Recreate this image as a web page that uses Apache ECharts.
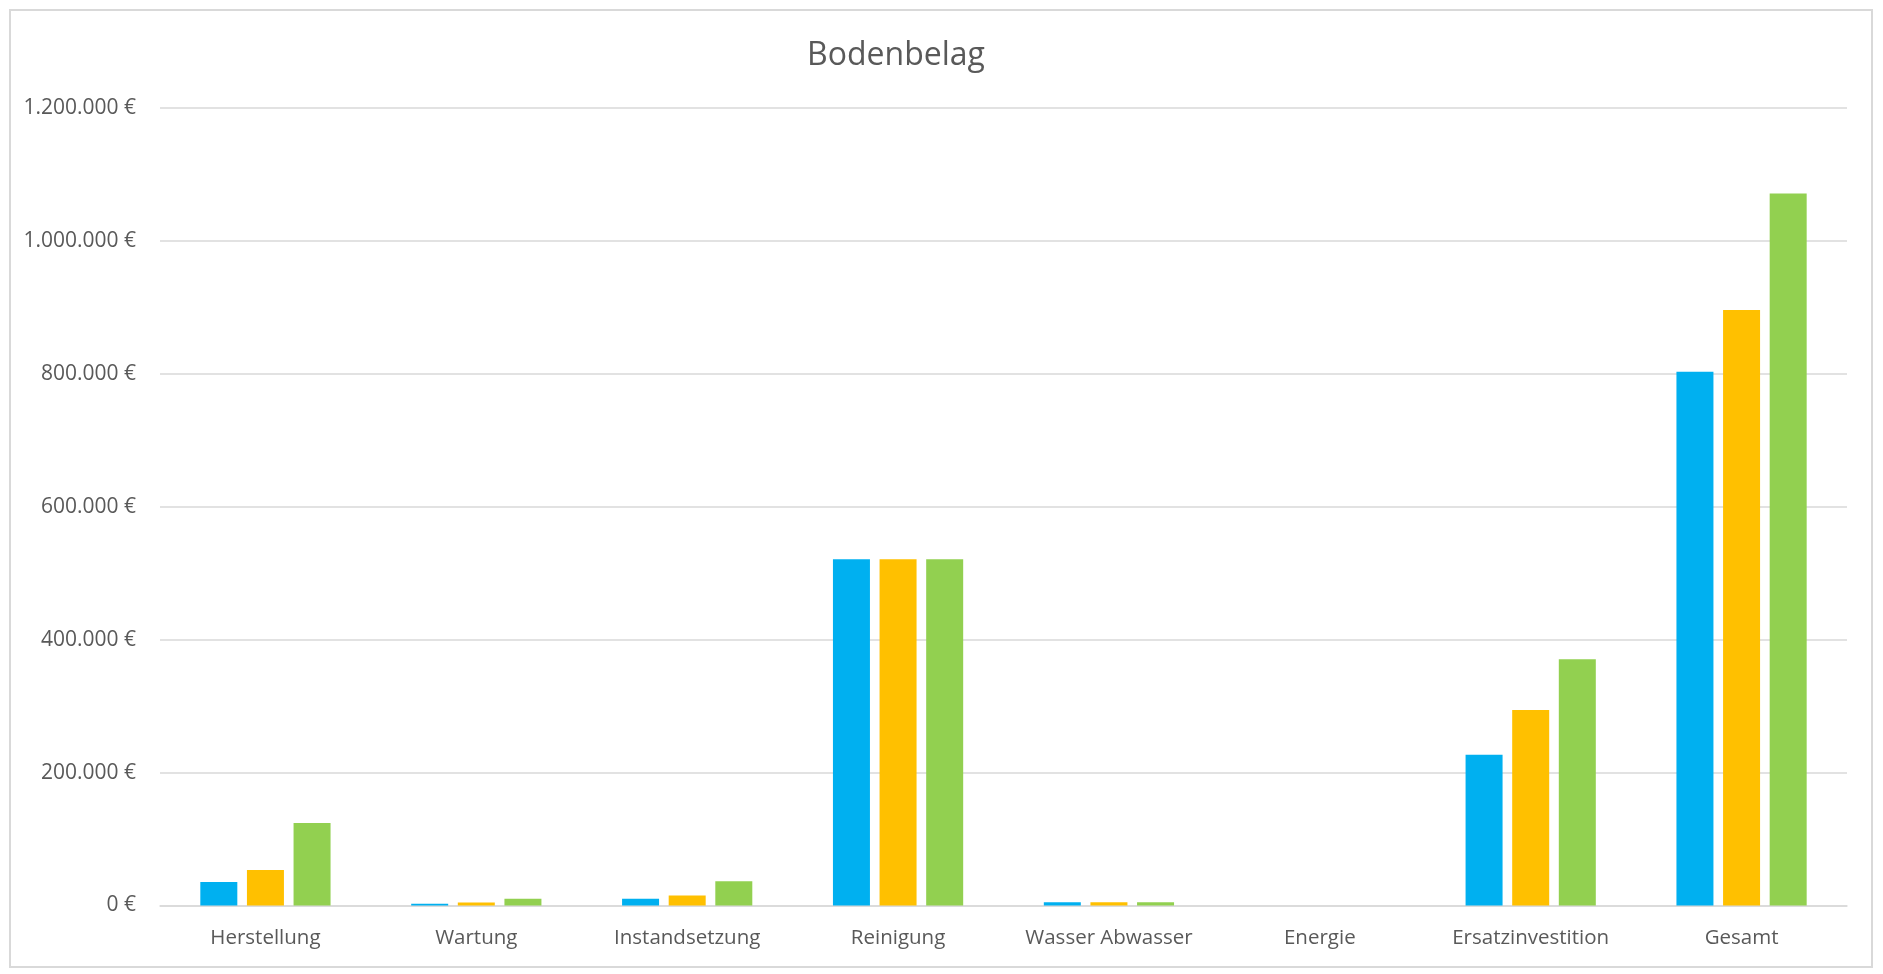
<!DOCTYPE html>
<html>
<head>
<meta charset="utf-8">
<script src="https://cdn.jsdelivr.net/npm/echarts@6/dist/echarts.min.js"></script>
<style>
html,body{margin:0;padding:0;background:#fff;}
#chart{width:1883px;height:974px;}
</style>
</head>
<body>
<div id="chart"></div>
<script>
const title = 'Bodenbelag';
const categories = ['Herstellung','Wartung','Instandsetzung','Reinigung','Wasser Abwasser','Energie','Ersatzinvestition','Gesamt'];
const seriesA = [35500, 2500, 10000, 521000, 5000, 0, 227000, 803000];
const seriesB = [53500, 4500, 15000, 521000, 5000, 0, 294000, 896000];
const seriesC = [124000, 10000, 36500, 521000, 5000, 0, 370500, 1071500];
const yTicks = [0, 200000, 400000, 600000, 800000, 1000000, 1200000];

function fmt(v){
  return String(v).replace(/\B(?=(\d{3})+(?!\d))/g, '.') + ' €';
}
const font = 'Open Sans';
const chart = echarts.init(document.getElementById('chart'), null, {renderer:'canvas'});
const barStyle = (c) => ({
  type:'bar', barWidth:37, barGap:'26%', itemStyle:{color:c}, animation:false
});
chart.setOption({
  animation:false,
  backgroundColor:'#fff',
  textStyle:{fontFamily:font},
  graphic:[{
    type:'rect', shape:{x:10,y:10,width:1862,height:957},
    style:{fill:'none', stroke:'#D9D9D9', lineWidth:2}, silent:true
  }],
  title:{
    text:title, left:891, top:35, textAlign:'center',
    textStyle:{fontFamily:font, fontSize:32, fontWeight:'normal', color:'#595959'}
  },
  grid:{left:160, right:36, top:108, bottom:68.5, containLabel:false},
  xAxis:{
    type:'category', data:categories,
    axisLine:{show:true, lineStyle:{color:'#D9D9D9', width:1.5}},
    axisTick:{show:false},
    axisLabel:{color:'#595959', fontFamily:font, fontSize:20.5, margin:22, interval:0, hideOverlap:false}
  },
  yAxis:{
    type:'value', min:yTicks[0], max:yTicks[yTicks.length-1], interval:200000,
    axisLine:{show:false}, axisTick:{show:false},
    splitLine:{lineStyle:{color:'#D9D9D9', width:1.5}},
    axisLabel:{color:'#595959', fontFamily:font, fontSize:21, margin:24, formatter:fmt}
  },
  series:[
    Object.assign(barStyle('#00B0F0'), {name:'A', data:seriesA}),
    Object.assign(barStyle('#FFC000'), {name:'B', data:seriesB}),
    Object.assign(barStyle('#92D050'), {name:'C', data:seriesC})
  ]
});
</script>
</body>
</html>
